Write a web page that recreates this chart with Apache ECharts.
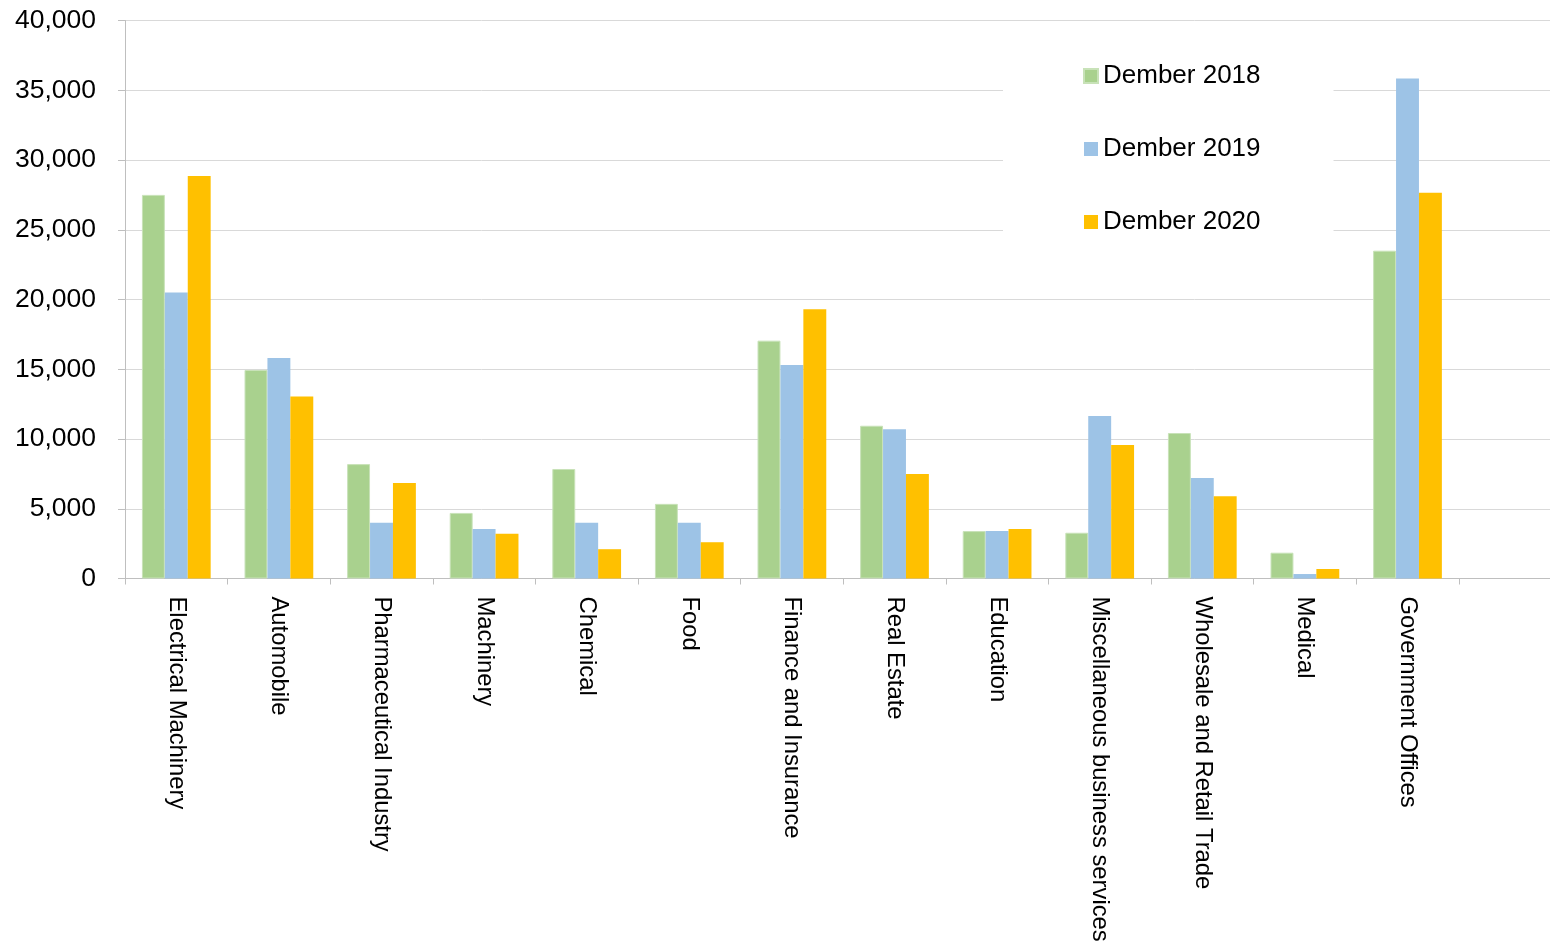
<!DOCTYPE html>
<html>
<head>
<meta charset="utf-8">
<script src="https://cdn.jsdelivr.net/npm/echarts@6/dist/echarts.min.js"></script>
<style>
html,body{margin:0;padding:0;background:#fff;}
#chart{width:1550px;height:943px;}
</style>
</head>
<body>
<div id="chart"></div>
<script>
const categories = ["Electrical Machinery","Automobile","Pharmaceutical Industry","Machinery","Chemical","Food","Finance and Insurance","Real Estate","Education","Miscellaneous business services","Wholesale and Retail Trade","Medical","Government Offices",""];
const seriesNames = ["Dember 2018","Dember 2019","Dember 2020"];
const values2018 = [27500,14950,8200,4700,7850,5350,17050,10950,3400,3280,10430,1850,23500,null];
const values2019 = [20500,15800,4000,3550,4000,4000,15300,10700,3400,11650,7200,320,35850,null];
const values2020 = [28850,13050,6850,3200,2100,2600,19300,7500,3550,9570,5900,680,27650,null];
const yTicks = {min:0,max:40000,interval:5000};

const FONT = "'Liberation Sans', Arial, sans-serif";
const chart = echarts.init(document.getElementById('chart'));
chart.setOption({
  animation:false,
  backgroundColor:'#ffffff',
  textStyle:{fontFamily:FONT,color:'#000'},
  grid:{left:125, top:20.5, height:558, width:1436.4, containLabel:false, outerBoundsMode:'none'},
  legend:{
    orient:'vertical',
    left:1003, top:43,
    padding:[20,73,20,80],
    backgroundColor:'#ffffff',
    itemWidth:14, itemHeight:14, itemGap:47,
    icon:'rect',
    textStyle:{fontFamily:FONT,fontSize:26,color:'#000',lineHeight:26},
    data:seriesNames
  },
  xAxis:{
    type:'category',
    data:categories,
    axisLine:{lineStyle:{color:'#bfbfbf',width:1}},
    axisTick:{show:true,length:6,lineStyle:{color:'#bfbfbf'}},
    axisLabel:{rotate:-90,interval:0,margin:18,fontSize:23.8,color:'#000',fontFamily:FONT}
  },
  yAxis:{
    type:'value',
    min:yTicks.min,max:yTicks.max,interval:yTicks.interval,
    axisLine:{show:true,lineStyle:{color:'#bfbfbf',width:1}},
    axisTick:{show:true,length:7,lineStyle:{color:'#bfbfbf'}},
    splitLine:{lineStyle:{color:'#d9d9d9',width:1}},
    axisLabel:{fontSize:26.5,color:'#000',margin:29,fontFamily:FONT}
  },
  series:[
    {name:seriesNames[0],type:'bar',data:values2018,barGap:'0%',barCategoryGap:'33%',
     itemStyle:{color:'#a9d18e',borderColor:'#c8e2b8',borderWidth:1}},
    {name:seriesNames[1],type:'bar',data:values2019,barGap:'0%',barCategoryGap:'33%',
     itemStyle:{color:'#9dc3e6'}},
    {name:seriesNames[2],type:'bar',data:values2020,barGap:'0%',barCategoryGap:'33%',
     itemStyle:{color:'#ffc000'}}
  ]
});
</script>
</body>
</html>
